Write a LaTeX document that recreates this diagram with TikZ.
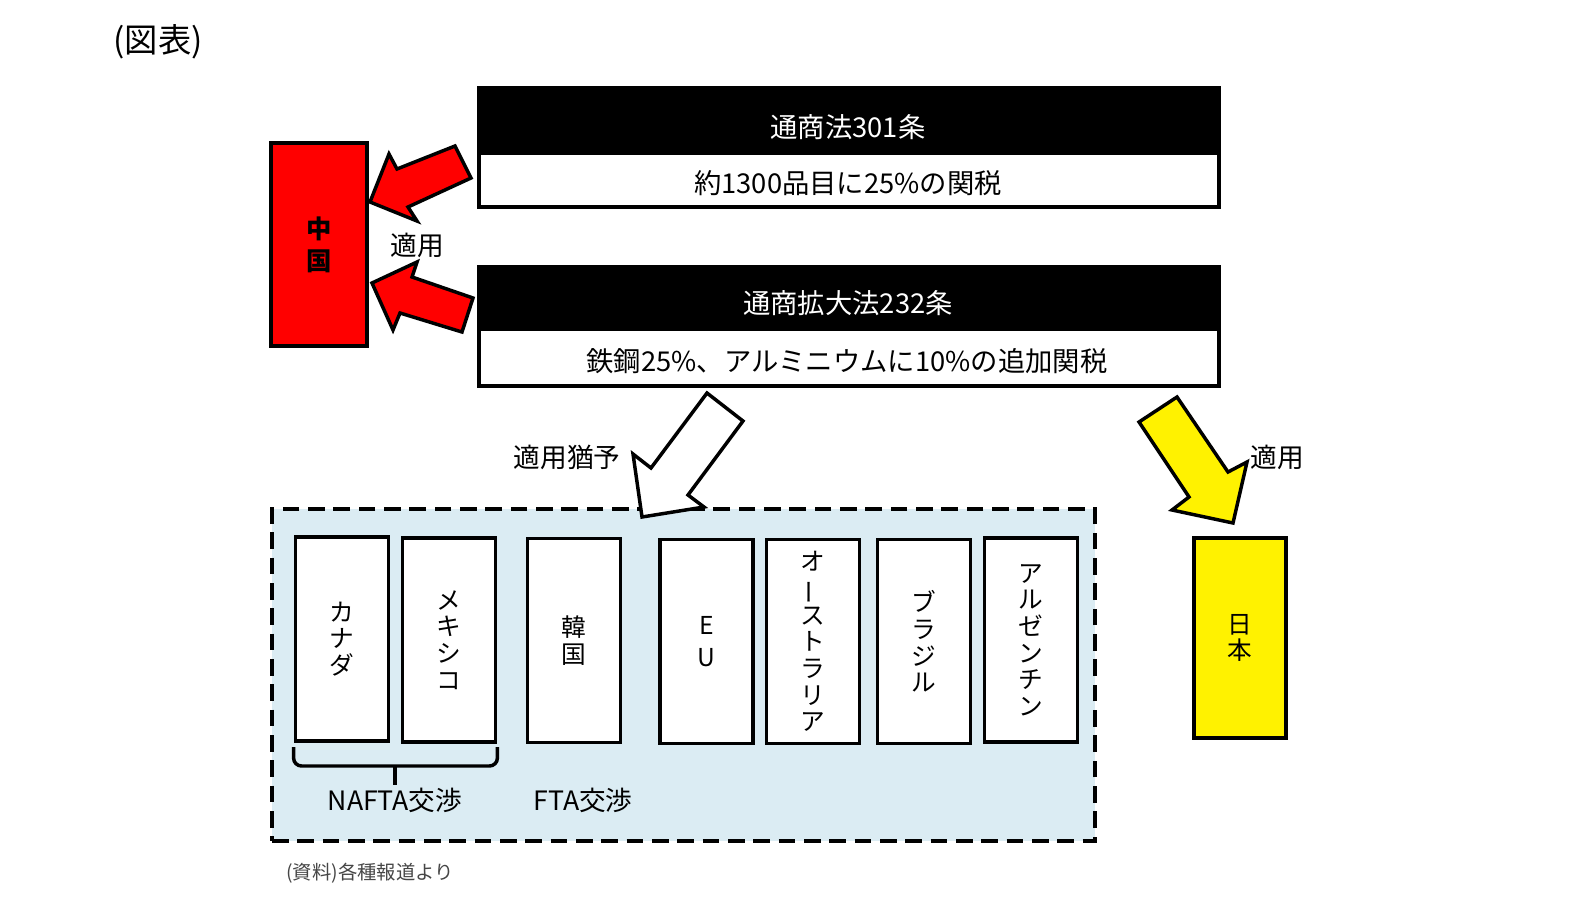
\documentclass[tikz,border=0pt]{standalone}
\usepackage{fontspec}
\setmainfont{Noto Sans CJK JP}
\usepackage{graphicx}
\definecolor{bgblue}{RGB}{219,236,243}
\definecolor{notegray}{RGB}{70,70,70}
\begin{document}
\begin{tikzpicture}[x=0.75pt,y=-0.75pt,
  lw/.style={line width=2.6pt},
  hdr/.style={lw, draw=black, fill=black, inner sep=0pt},
  bodybox/.style={lw, draw=black, fill=white, inner sep=0pt},
  hdrtext/.style={text=white, font=\fontsize{20.5}{24}\selectfont, inner sep=0pt},
  bodytext/.style={text=black, font=\fontsize{20.5}{24}\selectfont, inner sep=0pt},
  lbl/.style={font=\fontsize{20}{24}\selectfont, inner sep=0pt},
  cbox/.style={lw, draw=black, fill=white, minimum width=70pt, minimum height=153pt,
    inner sep=0pt, align=center, font=\fontsize{18.5}{20}\selectfont},
  blockarrow/.style={lw, draw=black, line join=miter},
  grpbox/.style={lw, draw=black, fill=bgblue, dash pattern=on 12.5pt off 6.5pt, inner sep=0pt}
]
\useasboundingbox (0,0) rectangle (1574,922);

% title
\node[font=\fontsize{25}{28}\selectfont, inner sep=0pt] (title) at (158,42) {(図表)};

% top box: 301
\node[hdr, minimum width=555pt, minimum height=48.75pt] (h1) at (849,120.5) {};
\node[bodybox, minimum width=555pt, minimum height=40.5pt] (b1) at (849,180) {};
\node[hdrtext] (h1t) at (848,127.5) {通商法301条};
\node[bodytext] (b1t) at (848,183) {約1300品目に25\%の関税};

% second box: 232
\node[hdr, minimum width=555pt, minimum height=46.5pt] (h2) at (849,298) {};
\node[bodybox, minimum width=555pt, minimum height=42.75pt] (b2) at (849,357.5) {};
\node[hdrtext] (h2t) at (848,303) {通商拡大法232条};
\node[bodytext] (b2t) at (847,361) {鉄鋼25\%、アルミニウムに10\%の追加関税};

% China
\node[lw, draw=black, fill=red, minimum width=72pt, minimum height=152.25pt, inner sep=0pt,
  align=center, font=\bfseries\fontsize{19}{24}\selectfont] (cn) at (319,244.5) {中\\国};

% red arrows
\draw[blockarrow, fill=red] (370,202) -- (389,154) -- (397,169) -- (455,146) -- (471,178) -- (408,207) -- (417,221) -- cycle;
\draw[blockarrow, fill=red] (372,283) -- (417,262) -- (412,277) -- (473,298) -- (462,332) -- (400,313) -- (393,330) -- cycle;
\node[lbl] (apply1) at (417,245) {適用};

% group box
\node[grpbox, minimum width=617.25pt, minimum height=249pt] (grp) at (683.5,675) {};

% white arrow
\draw[blockarrow, fill=white] (707,393) -- (743,421) -- (688,495) -- (704,507) -- (642,517) -- (633,454) -- (651,468) -- cycle;
\node[lbl] (defer) at (567,457) {適用猶予};

% yellow arrow
\draw[blockarrow, fill=yellow] (1177,397) -- (1228,472) -- (1247,462) -- (1233,523) -- (1172,510) -- (1189,497) -- (1139,422) -- cycle;
\node[lbl] (apply2) at (1277,457) {適用};

% Japan
\node[lw, draw=black, fill=yellow, minimum width=69pt, minimum height=150pt, inner sep=0pt,
  align=center, font=\fontsize{18.5}{19.5}\selectfont] (jp) at (1240,638) {日\\本};

% country boxes
\node[cbox] (ca) at (342,639) {カ\\ナ\\ダ};
\node[cbox] (mx) at (449,640) {メ\\キ\\シ\\コ};
\node[cbox] (kr) at (574,640.5) {韓\\国};
\node[cbox, font=\fontsize{18.5}{24}\selectfont] (eu) at (706.5,641.5) {E\\U};
\node[cbox] (au) at (813,641.5) {オ\\\rotatebox[origin=c]{90}{ー}\\ス\\ト\\ラ\\リ\\ア};
\node[cbox] (br) at (924,641.5) {ブ\\ラ\\ジ\\ル};
\node[cbox] (ar) at (1031,640) {ア\\ル\\ゼ\\ン\\チ\\ン};

% brace
\draw[lw, rounded corners=6pt] (ca.south west |- 0,747) -- (ca.south west |- 0,766) -- (mx.south east |- 0,766) -- (mx.south east |- 0,747);
\coordinate (bracemid) at (395,766);
\coordinate (bracetip) at (395,785);
\draw[lw] (bracemid) -- (bracetip);

\node[lbl] (nafta) at (395,800) {NAFTA交渉};
\node[lbl] (fta) at (583,800) {FTA交渉};

% source note
\node[font=\fontsize{14.5}{16}\selectfont, text=notegray, inner sep=0pt] (src) at (370,873) {(資料)各種報道より};
\end{tikzpicture}
\end{document}
